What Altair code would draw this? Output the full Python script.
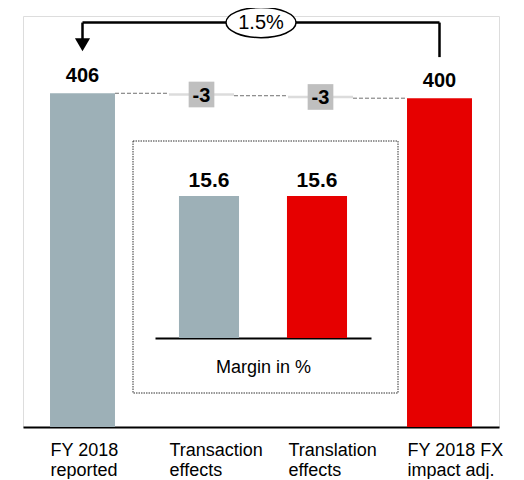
import altair as alt
import pandas as pd

# ---------------- data ----------------
categories = ["FY 2018\nreported", "Transaction\neffects", "Translation\neffects", "FY 2018 FX\nimpact adj."]
values = [406, -3, -3, 400]
is_total = [True, False, False, True]
bar_colors = ["#9db0b7", "#dcdcdc", "#dcdcdc", "#e60000"]

margin_categories = ["FY 2018 reported", "FY 2018 FX impact adj."]
margin_values = [15.6, 15.6]
margin_colors = ["#9db0b7", "#e60000"]
margin_title = "Margin in %"

FONT = "Liberation Sans"

# ---------------- derived tables ----------------
starts, ends = [], []
level = 0
for v, t in zip(values, is_total):
    if t:
        starts.append(0)
        ends.append(v)
        level = v
    else:
        starts.append(level)
        ends.append(level + v)
        level += v

main_df = pd.DataFrame({
    "cat": categories,
    "start": starts,
    "end": ends,
    "mid": [(s + e) / 2 for s, e in zip(starts, ends)],
    "label": [str(v) for v in values],
    "total": is_total,
})

conn_df = pd.DataFrame({
    "from": categories[:-1],
    "to": categories[1:],
    "level": ends[:-1],
})

pct = (values[0] - values[-1]) / values[-1] * 100
arrow_df = pd.DataFrame({
    "from": [categories[0]],
    "to": [categories[-1]],
    "top": [492],
    "right_bottom": [450],
    "head": [465],
    "label": [f"{pct:.1f}%"],
})

inset_df = pd.DataFrame({
    "cat": margin_categories,
    "value": margin_values,
    "label": [f"{v:.1f}" for v in margin_values],
})

# ---------------- scales ----------------
xscale = alt.Scale(domain=categories, paddingInner=0.454, paddingOuter=0.227)
yscale = alt.Scale(domain=[0, 500], nice=False)

x_main = alt.X(
    "cat:N", scale=xscale, title=None,
    axis=alt.Axis(
        orient="bottom", domain=True, domainColor="black", domainWidth=2,
        ticks=False, grid=False, labelFont=FONT, labelFontSize=18,
        labelColor="black", labelAlign="left", labelBaseline="top",
        labelAngle=0, labelPadding=14, labelLineHeight=20, labelOffset=-32,
        labelOverlap=False, labelBound=False,
        labelExpr="split(datum.label, '\\n')",
    ),
)

bars = alt.Chart(main_df).mark_bar().encode(
    x=x_main,
    y=alt.Y("start:Q", scale=yscale, axis=None),
    y2="end:Q",
    color=alt.Color("cat:N", scale=alt.Scale(domain=categories, range=bar_colors), legend=None),
)

conn = alt.Chart(conn_df).mark_rule(color="#707070", strokeDash=[4, 2], strokeWidth=1).encode(
    x=alt.X("from:N", bandPosition=1, title=None),
    x2=alt.X2("to:N", bandPosition=0),
    y=alt.Y("level:Q", axis=None),
)

tot_text = alt.Chart(main_df).transform_filter("datum.total").mark_text(
    font=FONT, fontSize=20, fontWeight="bold", baseline="alphabetic", dy=-11, color="black"
).encode(
    x=alt.X("cat:N", title=None),
    y=alt.Y("end:Q", axis=None),
    text="label:N",
)

d_box = alt.Chart(main_df).transform_filter("!datum.total").mark_point(
    shape="square", filled=True, size=660, color="#bfbfbf", opacity=1
).encode(
    x=alt.X("cat:N", title=None),
    y=alt.Y("mid:Q", axis=None),
)

d_text = alt.Chart(main_df).transform_filter("!datum.total").mark_text(
    font=FONT, fontSize=20, fontWeight="bold", baseline="middle", dy=1, color="black"
).encode(
    x=alt.X("cat:N", title=None),
    y=alt.Y("mid:Q", axis=None),
    text="label:N",
)

arrow_base = alt.Chart(arrow_df)
arr_h = arrow_base.mark_rule(color="black", strokeWidth=2.5).encode(
    x=alt.X("from:N", bandPosition=0.5, title=None),
    x2=alt.X2("to:N", bandPosition=0.5),
    y=alt.Y("top:Q", axis=None),
)
arr_r = arrow_base.mark_rule(color="black", strokeWidth=2.5).encode(
    x=alt.X("to:N", bandPosition=0.5, title=None),
    y=alt.Y("right_bottom:Q", axis=None),
    y2="top:Q",
)
arr_l = arrow_base.mark_rule(color="black", strokeWidth=2.5).encode(
    x=alt.X("from:N", bandPosition=0.5, title=None),
    y=alt.Y("head:Q", axis=None),
    y2="top:Q",
)
arr_head = arrow_base.mark_point(shape="triangle-down", filled=True, size=230, color="black", opacity=1).encode(
    x=alt.X("from:N", bandPosition=0.5, title=None),
    y=alt.Y("head:Q", axis=None),
)
ELLIPSE = ("M-1,0 C-1,-0.2375 -0.5523,-0.43 0,-0.43 C0.5523,-0.43 1,-0.2375 1,0 "
           "C1,0.2375 0.5523,0.43 0,0.43 C-0.5523,0.43 -1,0.2375 -1,0 Z")
ell = arrow_base.mark_point(
    shape=ELLIPSE, size=4900, filled=True, fill="white", stroke="black", strokeWidth=1.5, opacity=1
).encode(
    x=alt.value({"expr": "width/2"}),
    y=alt.Y("top:Q", axis=None),
)
ell_text = arrow_base.mark_text(font=FONT, fontSize=20, baseline="middle", color="black").encode(
    x=alt.value({"expr": "width/2"}),
    y=alt.Y("top:Q", axis=None),
    text="label:N",
)

main = alt.layer(bars, conn, tot_text, d_box, d_text, arr_h, arr_r, arr_l, arr_head, ell, ell_text)

frame = alt.Chart(pd.DataFrame({"f": [0]})).mark_rect(
    fillOpacity=0, stroke="#333333", strokeWidth=1, strokeDash=[1.5, 1]
).encode(
    x=alt.value(110), x2=alt.value(375), y=alt.value(125), y2=alt.value(377)
)

ix_scale = alt.Scale(domain=margin_categories, range=[132, 348], paddingInner=0.444, paddingOuter=0.222)
iy_scale = alt.Scale(domain=[0, max(margin_values)], range=[322, 180], nice=False)

inset_bars = alt.Chart(inset_df).mark_bar().encode(
    x=alt.X("cat:N", scale=ix_scale, title=margin_title,
            axis=alt.Axis(orient="bottom", offset=-89, domain=True, domainColor="black",
                          domainWidth=2, ticks=False, labels=False, grid=False,
                          titleFont=FONT, titleFontSize=18, titleFontWeight="normal",
                          titleColor="black", titlePadding=20)),
    y=alt.Y("value:Q", scale=iy_scale, axis=None),
    color=alt.Color("cat:N", scale=alt.Scale(domain=margin_categories, range=margin_colors), legend=None),
)
inset_text = alt.Chart(inset_df).mark_text(
    font=FONT, fontSize=21, fontWeight="bold", baseline="alphabetic", dy=-9, color="black"
).encode(
    x=alt.X("cat:N", title=margin_title),
    y=alt.Y("value:Q", axis=None),
    text="label:N",
)
inset = alt.layer(inset_bars, inset_text)

chart = alt.layer(main, frame, inset).resolve_scale(
    x="independent", y="independent", color="independent"
).properties(
    width=476, height=411,
    padding={"left": 15, "top": 8, "right": 17, "bottom": 52},
    autosize=alt.AutoSizeParams(type="none"),
).configure_view(strokeWidth=0).configure(font=FONT)

chart.save("out.html", embed_options={"renderer": "svg", "actions": False})
